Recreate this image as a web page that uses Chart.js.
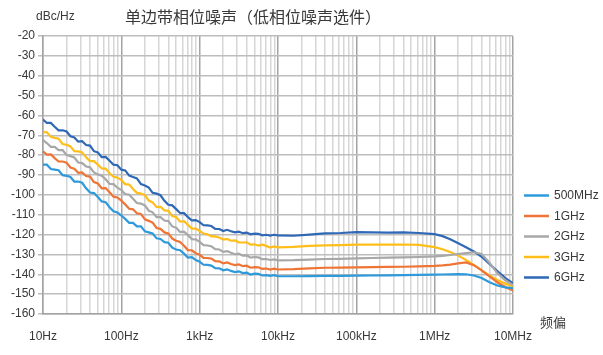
<!DOCTYPE html>
<html>
<head>
<meta charset="utf-8">
<script src="https://cdn.jsdelivr.net/npm/chart.js@4/dist/chart.umd.min.js"></script>
<style>
  html, body { margin: 0; padding: 0; background: #ffffff; }
  canvas { display: block; }
</style>
</head>
<body>
<canvas id="c" width="603" height="355"></canvas>
<script>
// ---------- data ----------
const chartTitle = '单边带相位噪声（低相位噪声选件）';
const yUnit = 'dBc/Hz';
const xAxisName = '频偏';

const seriesNames = ['500MHz', '1GHz', '2GHz', '3GHz', '6GHz'];
const seriesColors = ['#2F9ADB', '#EE7536', '#A8A8A8', '#FFBE1A', '#2E68B6'];

const xTickValues = [10, 100, 1000, 10000, 100000, 1000000, 10000000];
const xTickLabels = ['10Hz', '100Hz', '1kHz', '10kHz', '100kHz', '1MHz', '10MHz'];

const yMin = -160, yMax = -20, yStep = 10;

// offset frequency (Hz)
const freqs = [
  10, 11.2, 12.6, 14.1, 15.8, 17.8, 20, 22.4, 25.1, 28.2, 31.6, 35.5, 39.8, 44.7, 50.1, 56.2, 63.1, 70.8, 79.4, 89.1,
  100, 112, 126, 141, 158, 178, 200, 224, 251, 282, 316, 355, 398, 447, 501, 562, 631, 708, 794, 891,
  1000, 1120, 1260, 1410, 1580, 1780, 2000, 2240, 2510, 2820, 3160, 3550, 3980, 4470, 5010, 5620, 6310, 7080, 7940, 8910,
  10000, 15800, 25100, 39800, 63100, 100000, 158000, 251000, 398000, 631000,
  1000000, 1260000, 1580000, 2000000, 2510000, 3160000, 3980000, 5010000, 6310000, 7940000, 10000000
];

const s500M = [
  -84.8, -84.8, -87.0, -87.3, -87.6, -90.1, -90.4, -91.0, -93.3, -93.3, -93.9, -96.7, -98.8, -99.1, -101.1, -103.3, -103.7, -106.2, -108.3, -108.9,
  -110.4, -112.1, -114.1, -114.1, -115.9, -115.9, -118.4, -118.9, -119.5, -121.9, -122.2, -123.8, -124.1, -126.6, -127.5, -127.9, -129.6, -131.6, -131.4, -132.8,
  -133.7, -135.2, -135.3, -135.6, -136.9, -137.0, -138.0, -137.5, -138.3, -138.9, -138.5, -139.4, -139.2, -140.1, -139.7, -139.8, -140.6, -140.4, -140.8, -140.4,
  -140.9, -141.0, -140.9, -140.8, -140.8, -140.7, -140.6, -140.5, -140.4, -140.3,
  -140.2, -140.1, -140.0, -139.9, -140.0, -140.6, -141.9, -144.0, -145.6, -146.6, -147.0
];

const s1G = [
  -78.1, -79.7, -79.6, -81.5, -83.2, -83.2, -83.8, -86.2, -86.8, -88.9, -88.7, -90.5, -90.8, -93.6, -94.3, -96.7, -96.6, -98.7, -100.9, -101.3,
  -102.9, -104.8, -107.0, -107.3, -109.3, -109.6, -112.3, -113.1, -114.0, -116.7, -117.1, -118.9, -119.4, -122.0, -123.1, -123.7, -125.6, -127.8, -127.9, -129.4,
  -130.2, -131.7, -131.8, -132.1, -133.4, -133.5, -134.5, -134.0, -134.8, -135.4, -135.0, -135.9, -135.7, -136.7, -136.4, -136.5, -137.3, -137.1, -137.6, -137.2,
  -137.6, -137.4, -137.0, -136.7, -136.6, -136.5, -136.4, -136.3, -136.2, -136.0,
  -135.8, -135.5, -135.1, -134.5, -134.0, -135.4, -138.0, -141.0, -144.0, -146.4, -148.2
];

const s2G = [
  -72.4, -73.9, -75.8, -75.8, -77.5, -77.5, -79.9, -80.5, -81.2, -83.7, -84.0, -85.7, -86.1, -88.7, -89.7, -90.3, -92.2, -94.5, -94.6, -96.4,
  -97.6, -99.6, -99.9, -102.0, -104.1, -104.4, -105.3, -108.0, -108.8, -111.2, -111.2, -112.9, -113.2, -115.9, -116.5, -118.7, -118.5, -120.3, -122.3, -122.4,
  -123.7, -125.3, -125.5, -125.9, -127.3, -127.5, -128.7, -128.3, -129.2, -129.9, -129.6, -130.6, -130.5, -131.6, -131.3, -131.5, -132.4, -132.3, -132.8, -132.5,
  -133.0, -132.9, -132.6, -132.3, -132.2, -132.0, -131.8, -131.6, -131.5, -131.3,
  -131.0, -130.7, -130.3, -129.8, -129.3, -128.9, -129.8, -134.2, -139.4, -143.0, -145.4
];

const s3G = [
  -68.3, -68.5, -70.8, -71.3, -71.7, -74.4, -74.8, -75.6, -78.0, -78.1, -78.6, -81.1, -83.0, -83.0, -84.8, -86.7, -86.8, -89.1, -90.9, -91.3,
  -92.6, -94.6, -94.8, -97.0, -99.0, -99.3, -100.2, -102.9, -103.8, -106.2, -106.0, -107.8, -108.0, -110.7, -111.2, -113.5, -113.3, -115.1, -117.0, -117.0,
  -118.2, -119.5, -119.9, -120.9, -120.9, -121.5, -122.5, -122.2, -123.1, -122.9, -123.9, -124.0, -123.9, -125.1, -124.9, -125.6, -125.1, -125.7, -126.5, -126.0,
  -126.4, -126.2, -125.7, -125.4, -125.3, -125.1, -125.0, -125.1, -125.0, -125.2,
  -126.3, -127.4, -128.8, -130.6, -132.8, -135.3, -138.0, -140.6, -142.9, -144.7, -146.0
];

const s6G = [
  -62.1, -63.8, -63.8, -65.7, -67.5, -67.5, -68.1, -70.5, -71.1, -73.2, -73.0, -74.9, -75.2, -78.0, -78.7, -81.0, -80.9, -82.8, -84.8, -85.1,
  -87.3, -87.7, -90.3, -91.0, -91.7, -94.6, -95.3, -96.3, -99.0, -99.4, -100.2, -103.0, -105.0, -105.3, -107.2, -109.1, -109.2, -111.2, -112.8, -112.7,
  -113.7, -115.3, -115.4, -115.7, -117.1, -117.2, -118.2, -117.6, -118.3, -118.9, -118.5, -119.3, -119.0, -119.9, -119.5, -119.6, -120.4, -120.1, -120.5, -120.1,
  -120.4, -120.6, -120.0, -119.4, -119.2, -118.8, -118.9, -119.0, -118.9, -119.2,
  -119.8, -120.8, -122.4, -124.4, -126.4, -128.5, -131.2, -134.8, -138.4, -141.8, -144.5
];

const seriesValues = [s500M, s1G, s2G, s3G, s6G];

// ---------- chart ----------
const FONT = "'Liberation Sans', Arial, sans-serif";
const CJK = "'Noto Sans CJK SC', 'Noto Sans', sans-serif";
const TEXT = '#383838';

function isDecade(v) {
  const l = Math.log10(v);
  return Math.abs(l - Math.round(l)) < 1e-6;
}

const datasets = seriesNames.map((name, i) => ({
  label: name,
  data: freqs.map((f, j) => ({ x: f, y: seriesValues[i][j] })),
  borderColor: seriesColors[i],
  backgroundColor: seriesColors[i],
  borderWidth: 2.2,
  pointRadius: 0,
  tension: 0,
  fill: false
}));

const textPlugin = {
  id: 'texts',
  afterDraw(chart) {
    const ctx = chart.ctx;
    ctx.save();
    ctx.fillStyle = TEXT;
    ctx.font = '16px ' + CJK;
    ctx.textAlign = 'left';
    ctx.textBaseline = 'middle';
    ctx.fillText(chartTitle, 125, 17);
    ctx.font = '12px ' + FONT;
    ctx.fillText(yUnit, 36, 17);
    ctx.font = '13px ' + CJK;
    ctx.fillText(xAxisName, 540, 322);
    const legendY0 = 195.5, legendDy = 20.5;
    ctx.font = '12px ' + FONT;
    seriesNames.forEach((name, i) => {
      const y = legendY0 + i * legendDy;
      ctx.strokeStyle = seriesColors[i];
      ctx.lineWidth = 2.5;
      ctx.beginPath();
      ctx.moveTo(524, y);
      ctx.lineTo(549, y);
      ctx.stroke();
      ctx.fillStyle = TEXT;
      ctx.fillText(name, 554, y + 0.5);
    });
    ctx.restore();
  }
};

new Chart(document.getElementById('c'), {
  type: 'line',
  data: { datasets },
  options: {
    responsive: false,
    animation: false,
    devicePixelRatio: 1,
    layout: { padding: { top: 36, right: 90, left: 0, bottom: 0 } },
    plugins: {
      legend: { display: false },
      title: { display: false },
      tooltip: { enabled: false }
    },
    scales: {
      x: {
        type: 'logarithmic',
        min: 10,
        max: 10000000,
        afterFit(s) { s.height = 41; },
        afterBuildTicks(s) {
          const t = [];
          for (let e = 1; e <= 7; e++) {
            for (let m = 1; m <= 9; m++) {
              const v = Math.round(m * Math.pow(10, e));
              if (v > 10000000) break;
              t.push({ value: v });
            }
          }
          s.ticks = t;
        },
        ticks: {
          autoSkip: false,
          maxRotation: 0,
          minRotation: 0,
          padding: 15,
          color: TEXT,
          font: { family: FONT, size: 12 },
          callback(value) {
            const idx = xTickValues.indexOf(Math.round(value));
            return idx >= 0 ? xTickLabels[idx] : '';
          }
        },
        grid: {
          drawTicks: false,
          lineWidth: 1.5,
          color(ctx) {
            const v = ctx.tick ? ctx.tick.value : 0;
            return isDecade(v) ? '#a3a3a3' : '#d6d6d6';
          }
        },
        border: { color: '#a3a3a3', width: 1.5 }
      },
      y: {
        min: yMin,
        max: yMax,
        afterFit(s) { s.width = 43; },
        ticks: {
          stepSize: yStep,
          padding: 3,
          color: TEXT,
          font: { family: FONT, size: 12 }
        },
        grid: {
          color: '#bdbdbd',
          lineWidth: 1.5,
          tickLength: 5
        },
        border: { color: '#a3a3a3', width: 1.5 }
      }
    }
  },
  plugins: [textPlugin]
});
</script>
</body>
</html>
